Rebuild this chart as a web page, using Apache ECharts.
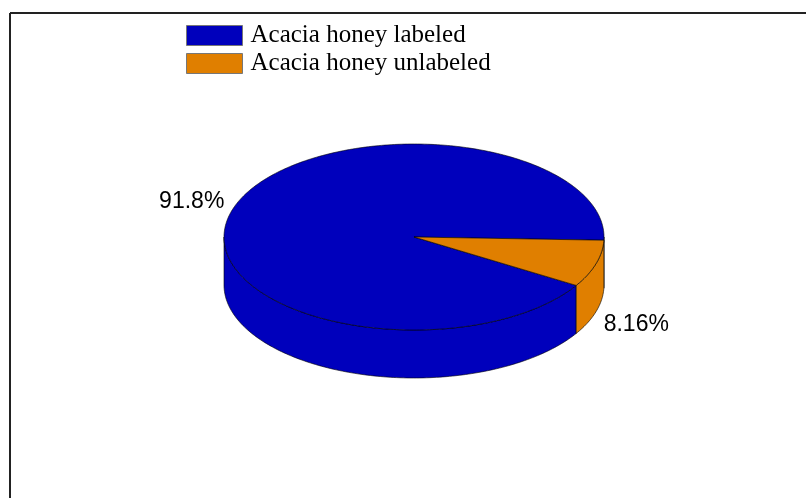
<!DOCTYPE html>
<html>
<head>
<meta charset="utf-8">
<script src="https://cdn.jsdelivr.net/npm/echarts@6/dist/echarts.min.js"></script>
<style>html,body{margin:0;padding:0;background:#fff}#c{width:806px;height:498px}</style>
</head>
<body>
<div id="c"></div>
<script>
// ---- data ----
const categories = ['Acacia honey labeled', 'Acacia honey unlabeled'];
const values = [91.84, 8.16];
const valueLabels = ['91.8%', '8.16%'];
const colors = ['#0000BC', '#E07F00'];

// ---- layout (not data) ----
const CX = 414, CY = 237, RX = 190, RY = 93, DEPTH = 48;
const START_DEG = 2;          // first slice starts just below 3 o'clock
const DRAW_ORDER = [1, 0];    // clockwise order of slices

const total = values.reduce((a, b) => a + b, 0);
const angleTable = {};
(function () {
  let acc = START_DEG;
  DRAW_ORDER.forEach(i => {
    const span = values[i] / total * 360;
    angleTable[i] = [acc, acc + span];
    acc += span;
  });
})();

function pt(deg, dy) {
  const r = deg * Math.PI / 180;
  return [CX + RX * Math.cos(r), CY + RY * Math.sin(r) + (dy || 0)];
}
function arc(a, b, dy) {
  const pts = [];
  const n = Math.max(2, Math.ceil(Math.abs(b - a) / 1));
  for (let k = 0; k <= n; k++) pts.push(pt(a + (b - a) * k / n, dy));
  return pts;
}

function makeRender(idx) {
  return function (params, api) {
    const [a, b] = angleTable[idx];
    const color = colors[idx];
    const children = [];
    // side walls: visible where angle in [0,180] (mod 360)
    [[0, 180], [360, 540]].forEach(([lo, hi]) => {
      const s = Math.max(a, lo), e = Math.min(b, hi);
      if (e > s) {
        const top = arc(s, e, 0);
        const bot = arc(e, s, DEPTH);
        children.push({
          type: 'polygon',
          shape: { points: top.concat(bot) },
          style: { fill: color, stroke: '#000', lineWidth: 0.6 }
        });
      }
    });
    // top face
    children.push({
      type: 'polygon',
      shape: { points: [[CX, CY]].concat(arc(a, b, 0)) },
      style: { fill: color, stroke: '#000', lineWidth: 0.6 }
    });
    // percentage label
    const mid = (a + b) / 2;
    const mr = mid * Math.PI / 180;
    const c = Math.cos(mr), s = Math.sin(mr);
    const lx = CX + (RX + 8) * c;
    const ly = CY + (RY + 30) * s + (s > 0 ? DEPTH + 4 : 0);
    children.push({
      type: 'text',
      x: lx, y: ly,
      style: {
        text: valueLabels[idx],
        fill: '#000',
        font: '23px "Liberation Sans", Arial, sans-serif',
        align: c < 0 ? 'right' : 'left',
        verticalAlign: 'middle'
      }
    });
    return { type: 'group', children };
  };
}

const chart = echarts.init(document.getElementById('c'), null, { renderer: 'canvas' });
chart.setOption({
  animation: false,
  backgroundColor: '#fff',
  legend: {
    orient: 'vertical',
    left: 181,
    top: 18,
    itemWidth: 56,
    itemHeight: 20,
    itemGap: 3,
    icon: 'rect',
    selectedMode: false,
    itemStyle: { borderColor: '#777', borderWidth: 1 },
    textStyle: {
      fontFamily: '"Liberation Serif", "Times New Roman", serif',
      fontSize: 25,
      color: '#000',
      lineHeight: 20,
      padding: [0, 0, 0, 3]
    },
    data: categories
  },
  graphic: [
    { type: 'line', shape: { x1: 10, y1: 13, x2: 10, y2: 498 }, style: { stroke: '#222', lineWidth: 2 } },
    { type: 'line', shape: { x1: 10, y1: 13, x2: 806, y2: 13 }, style: { stroke: '#222', lineWidth: 2 } }
  ],
  series: categories.map((name, i) => ({
    type: 'custom',
    name: name,
    coordinateSystem: 'none',
    itemStyle: { color: colors[i] },
    data: [[values[i]]],
    renderItem: makeRender(i)
  }))
});
</script>
</body>
</html>
